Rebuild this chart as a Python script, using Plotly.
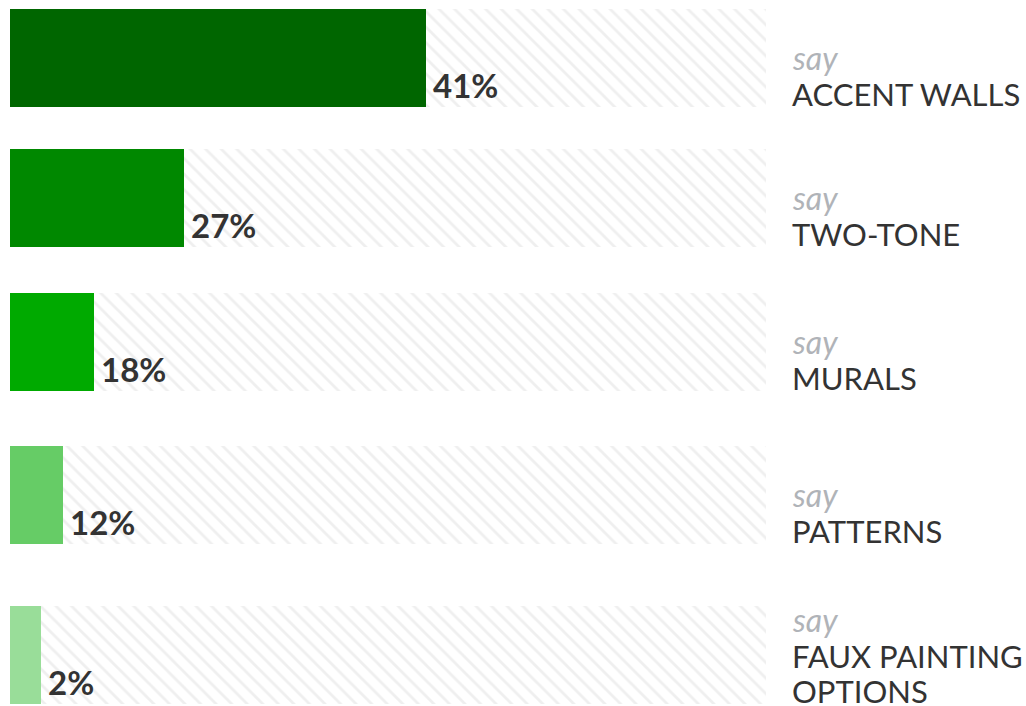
import plotly.graph_objects as go

# data
categories = ["ACCENT WALLS", "TWO-TONE", "MURALS", "PATTERNS", "FAUX PAINTING<br>OPTIONS"]
shares = [41, 27, 18, 12, 2]
bar_lengths = [55.0, 23.0, 11.1, 7.0, 4.1]   # drawn length, % of the hatched track
track = [100, 100, 100, 100, 100]

colors = ["#006600", "#008800", "#00aa00", "#66cc66", "#99dd99"]
W, H = 1026, 706
row_y = [58, 198, 342, 495, 655]   # row centres (px from top)
bar_h = 98
line_h = 35

fig = go.Figure()

# hatched background track
fig.add_trace(go.Bar(
    x=track, y=row_y, orientation="h", width=bar_h,
    marker=dict(color="white", line_width=0,
                pattern=dict(shape="\\", fgcolor="#e0e0e0", bgcolor="white",
                             size=11, solidity=0.25, fillmode="overlay")),
    hoverinfo="skip", showlegend=False))

fig.add_trace(go.Bar(
    x=bar_lengths, y=row_y, orientation="h", width=bar_h,
    marker=dict(color=colors, line_width=0),
    customdata=shares, hovertemplate="%{customdata}%<extra></extra>",
    showlegend=False))

for cat, s, L, y in zip(categories, shares, bar_lengths, row_y):
    bottom = y + bar_h / 2
    fig.add_annotation(x=L, y=bottom, xref="x", yref="y",
                       text=f"<b>{s}%</b>", showarrow=False,
                       xanchor="left", yanchor="bottom", xshift=5,
                       font=dict(family="Lato", size=33, color="#333333"))
    lines = cat.split("<br>")
    for k, ln in enumerate(reversed(lines)):
        fig.add_annotation(x=1.0317, y=bottom, xref="paper", yref="y",
                           text=ln, showarrow=False, align="left",
                           xanchor="left", yanchor="bottom", yshift=-8 + k * line_h,
                           font=dict(family="Lato", size=31, color="#333333"))
    fig.add_annotation(x=1.0317, y=bottom, xref="paper", yref="y",
                       text="<i>say</i>", showarrow=False, align="left",
                       xanchor="left", yanchor="bottom",
                       yshift=-8 + len(lines) * line_h + 1,
                       font=dict(family="Lato", size=32, color="#b0b3b8"))

fig.update_layout(
    width=W, height=H,
    margin=dict(l=10, r=260, t=0, b=0),
    paper_bgcolor="white", plot_bgcolor="white",
    barmode="overlay", bargap=0,
    xaxis=dict(range=[0, 100], visible=False, fixedrange=True),
    yaxis=dict(range=[H, 0], visible=False, fixedrange=True),
)

# drop the default 8px body margin so the figure fills the window
fig.write_html("out.html", config={"displayModeBar": False},
               post_script="document.body.style.margin='0';")
